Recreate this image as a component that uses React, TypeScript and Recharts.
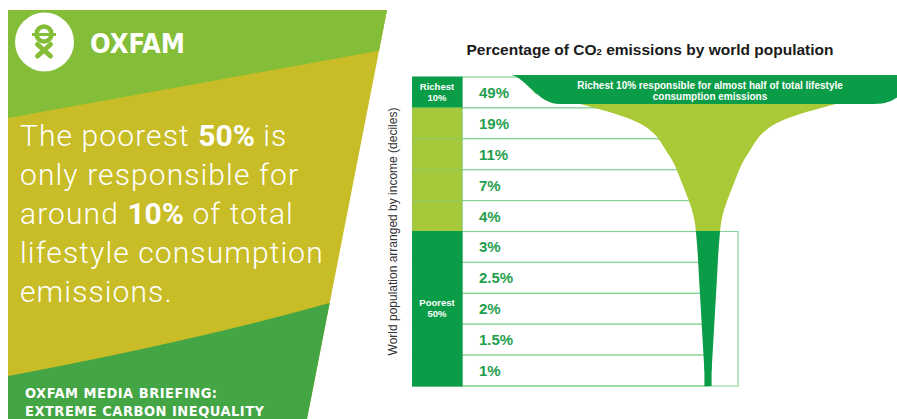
import React from "react";
import { ComposedChart, Bar, Area, XAxis, YAxis, ReferenceArea } from "recharts";

// ---------- data ----------
const deciles = ["10th", "9th", "8th", "7th", "6th", "5th", "4th", "3rd", "2nd", "1st"];
const shares = [49, 19, 11, 7, 4, 3, 2.5, 2, 1.5, 1];
const shareLabels = ["49%", "19%", "11%", "7%", "4%", "3%", "2.5%", "2%", "1.5%", "1%"];
const groups = ["richest", "middle", "middle", "middle", "middle", "poorest", "poorest", "poorest", "poorest", "poorest"];
const groupLabels: string[][] = [["Richest", "10%"], [], [], [], [], [], [], ["Poorest", "50%"], [], []];
const annotation = ["Richest 10% responsible for almost half of total lifestyle", "consumption emissions"];
const yTitle = "World population arranged by income (deciles)";

// ---------- layout constants (axis units) ----------
const X_MIN = -41.11;
const X_MAX = 26.25;
const COL_RIGHT = -34.17;
const BOX_RIGHT = 4.17;

const DARK = "#0b9c48";
const LIGHT = "#a9ca36";
const COL_LIGHT = "#a6c93c";
const LINE = "#86d293";
const PCT = "#1f9e4d";
const FONT = "'Liberation Sans', Arial, sans-serif";
const NARROW = "'Liberation Sans Narrow', 'DejaVu Sans Condensed', sans-serif";

const last = deciles.length - 1;
const rows = deciles.map((d, i) => ({
  decile: d,
  share: shares[i],
  label: shareLabels[i],
  group: groups[i],
  groupLabel: groupLabels[i],
  col: [X_MIN, COL_RIGHT],
  cell: [COL_RIGHT, 0],
  funnel: [-shares[i] / 2, shares[i] / 2],
  cap: i === 0 || i === last ? [-shares[i] / 2, shares[i] / 2] : null,
}));

function ColShape(props: any) {
  const { x, y, width, height, payload } = props;
  const middle = payload.group === "middle";
  const fill = middle ? COL_LIGHT : DARK;
  const lines: string[] = payload.groupLabel || [];
  const cx = x + width / 2;
  const cy = y + height / 2;
  return (
    <g>
      <rect x={x} y={y} width={width} height={height} fill={fill} stroke={middle ? "#8fc95a" : fill} strokeWidth={1} />
      {lines.length > 0 && (
        <text textAnchor="middle" fill="#fff" fontSize={9.5} fontWeight={700} fontFamily={FONT}>
          <tspan x={cx} y={cy - 2.5}>{lines[0]}</tspan>
          <tspan x={cx} y={cy + 8.5}>{lines[1]}</tspan>
        </text>
      )}
    </g>
  );
}

function CellShape(props: any) {
  const { x, y, width, height, payload } = props;
  return (
    <g>
      <rect x={x} y={y} width={width} height={height} fill="#fff" stroke={LINE} strokeWidth={1.2} />
      <text x={x + 17} y={y + height / 2 + 5.4} fill={PCT} fontSize={15} fontWeight={700} fontFamily={FONT}>
        {payload.label}
      </text>
    </g>
  );
}

function CapShape(props: any) {
  const { x, y, width, height, index } = props;
  if (index === 0) {
    const y0 = y - 2;
    const y1 = y + height - 4;
    const x0 = x - 20;
    const x2 = x + width + 20;
    const d = `M${x0},${y0} L${x2},${y0} L${x2},${y1 - 12} C${x2 - 8},${y1 - 6} ${x2 - 14},${y1} ${x2 - 30},${y1} L${x0 + 48},${y1} C${x0 + 27},${y1} ${x0 + 14},${y0 + 3} ${x0},${y0} Z`;
    const cx = x + width / 2 + 2;
    return (
      <g>
        <path d={d} fill={DARK} />
        <text textAnchor="middle" fill="#fff" fontSize={10} fontWeight={700} fontFamily={FONT}>
          <tspan x={cx} y={y0 + 13.5}>{annotation[0]}</tspan>
          <tspan x={cx} y={y0 + 24.5}>{annotation[1]}</tspan>
        </text>
      </g>
    );
  }
  return <rect x={x} y={y} width={width} height={height} fill={DARK} />;
}

function Poster() {
  const TOP = "#84be38";
  const OLIVE = "#c8bc27";
  const BOT = "#44a545";
  return (
    <svg width={897} height={419} style={{ position: "absolute", left: 0, top: 0 }}>
      <defs>
        <clipPath id="panelClip">
          <polygon points="8,10 387,10 307,419 8,419" />
        </clipPath>
      </defs>
      <g clipPath="url(#panelClip)">
        <rect x={0} y={0} width={400} height={419} fill={OLIVE} />
        <path d="M0,0 H400 V47 L8,118 L0,119.5 Z" fill={TOP} />
        <path d="M0,378 L8,376 Q200,340 340,300 L400,288 V419 H0 Z" fill={BOT} />
      </g>
      {/* logo */}
      <circle cx={44.5} cy={42} r={29.5} fill="#fff" />
      <circle cx={44} cy={34} r={7.5} fill="none" stroke={TOP} strokeWidth={4.5} />
      <rect x={32} y={33} width={24} height={3} fill={TOP} />
      <path d="M37.5,44.5 L50.5,56 M50.5,44.5 L37.5,56" fill="none" stroke={TOP} strokeWidth={5} strokeLinecap="round" />
      <text x={90} y={53} fill="#fff" fontSize={27} fontWeight={700} fontFamily={NARROW}>OXFAM</text>
      {/* headline */}
      <g fill="#fff" fontFamily="Roboto, sans-serif" fontWeight={300} fontSize={30} letterSpacing={1.1}>
        <text x={20} y={146}>The poorest <tspan fontWeight={700} letterSpacing={0}>50%</tspan> is</text>
        <text x={20} y={185}>only responsible for</text>
        <text x={20} y={224}>around <tspan fontWeight={700} letterSpacing={0}>10%</tspan> of total</text>
        <text x={20} y={263}>lifestyle consumption</text>
        <text x={20} y={302}>emissions.</text>
      </g>
      <g fill="#fff" fontFamily={NARROW} fontWeight={700} fontSize={14.5} letterSpacing={0.5}>
        <text x={25} y={398}>OXFAM MEDIA BRIEFING:</text>
        <text x={25} y={416}>EXTREME CARBON INEQUALITY</text>
      </g>
      <text
        x={397}
        y={231.5}
        transform="rotate(-90 397 231.5)"
        textAnchor="middle"
        fill="#333"
        fontSize={12}
        fontFamily={FONT}
      >
        {yTitle}
      </text>
    </svg>
  );
}

export default function App() {
  return (
    <div style={{ position: "fixed", left: 0, top: 0, width: 897, height: 419, background: "#fff", overflow: "hidden" }}>
      <Poster />
      <div
        style={{
          position: "absolute",
          left: 0,
          width: 1300,
          textAlign: "center",
          top: 41,
          fontFamily: FONT,
          fontWeight: 700,
          fontSize: 15.5,
          color: "#1a1a1a",
          lineHeight: "18px",
        }}
      >
        Percentage of CO<span style={{ fontSize: 9.5 }}>2</span> emissions by world population
      </div>
      <div style={{ position: "absolute", left: 0, top: 0 }}>
        <ComposedChart
          layout="vertical"
          width={897}
          height={419}
          data={rows}
          margin={{ top: 77, right: 0, bottom: 33, left: 374 }}
          barCategoryGap={0}
          barGap={0}
        >
          <defs>
            <linearGradient id="funnelFill" x1="0" y1="0" x2="0" y2="1">
              <stop offset="0" stopColor={LIGHT} />
              <stop offset="0.5" stopColor={LIGHT} />
              <stop offset="0.5" stopColor={DARK} />
              <stop offset="1" stopColor={DARK} />
            </linearGradient>
          </defs>
          <XAxis type="number" domain={[X_MIN, X_MAX]} allowDataOverflow hide />
          <YAxis yAxisId="t" type="category" dataKey="decile" width={38} tick={false} tickLine={false} axisLine={false} />
          <YAxis yAxisId="c" type="category" dataKey="decile" hide />
          <YAxis yAxisId="f" type="category" dataKey="decile" hide />
          <YAxis yAxisId="k" type="category" dataKey="decile" hide />
          <Bar yAxisId="t" dataKey="cell" shape={CellShape} isAnimationActive={false} zIndex={40} />
          <ReferenceArea
            yAxisId="t"
            y1={deciles[5]}
            y2={deciles[last]}
            x1={COL_RIGHT}
            x2={BOX_RIGHT}
            fill="none"
            stroke={LINE}
            strokeWidth={1.2}
            fillOpacity={0}
            zIndex={50}
          />
          <Bar yAxisId="c" dataKey="col" shape={ColShape} isAnimationActive={false} zIndex={60} />
          <Area
            yAxisId="f"
            dataKey="funnel"
            type="monotone"
            fill="url(#funnelFill)"
            fillOpacity={1}
            stroke="none"
            isAnimationActive={false}
            zIndex={100}
          />
          <Bar yAxisId="k" dataKey="cap" shape={CapShape} isAnimationActive={false} zIndex={300} />
        </ComposedChart>
      </div>
    </div>
  );
}
